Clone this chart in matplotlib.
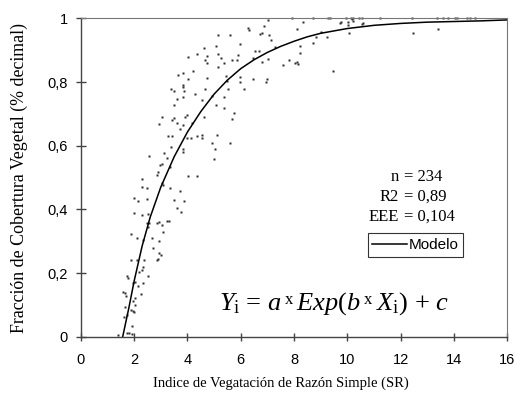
import matplotlib
matplotlib.use('Agg')
import matplotlib.pyplot as plt

SERIF = 'Liberation Serif'
SANS = 'Liberation Sans'
plt.rcParams['mathtext.fontset'] = 'custom'
plt.rcParams['mathtext.rm'] = SERIF
plt.rcParams['mathtext.it'] = SERIF + ':italic'

# observaciones (SR, fraccion de cobertura)
obs_x = [7.03, 7.93, 6.88, 6.28, 6.31, 6.80, 6.73, 7.06, 7.14, 5.15, 5.60, 5.98, 5.07, 4.62, 7.29,
         6.54, 6.69, 4.02, 4.36, 4.74, 4.66, 4.74, 5.15, 5.26, 5.38, 5.68, 5.86, 5.90, 6.46, 6.80,
         7.03, 5.15, 7.59, 7.81, 8.11, 8.13, 8.04, 4.21, 3.65, 3.84, 4.02, 4.74, 5.45, 5.49, 5.98,
         5.98, 6.46, 6.99, 6.95, 3.84, 3.84, 3.87, 3.39, 3.50, 4.29, 4.66, 5.53, 6.13, 3.61, 3.50,
         3.84, 4.55, 4.92, 5.07, 5.38, 5.38, 3.99, 3.91, 3.05, 2.94, 3.42, 3.50, 3.61, 3.84, 3.72,
         4.17, 4.62, 5.75, 5.68, 3.27, 3.42, 3.99, 4.14, 4.36, 4.55, 4.55, 5.11, 4.92, 5.60, 3.39,
         3.84, 3.84, 5.04, 5.00, 2.56, 3.12, 3.24, 2.97, 3.05, 3.35, 2.90, 2.86, 4.02, 4.36, 2.30,
         3.05, 3.09, 2.30, 2.49, 3.35, 3.72, 3.50, 3.88, 2.00, 2.15, 2.49, 3.61, 3.76, 2.00, 2.30,
         2.52, 2.49, 2.56, 2.86, 2.94, 3.05, 3.24, 3.31, 2.52, 3.09, 1.89, 2.11, 2.34, 2.67, 2.94,
         2.71, 2.94, 3.01, 2.90, 2.86, 1.89, 2.11, 2.37, 2.34, 2.30, 2.19, 2.52, 1.74, 1.77, 2.04,
         1.96, 2.15, 2.34, 2.26, 1.59, 1.66, 1.70, 2.04, 1.96, 1.66, 1.89, 1.96, 2.04, 2.00, 1.62,
         1.74, 1.92, 1.74, 1.81, 1.92, 1.40,
         8.71, 9.28, 9.35, 9.95, 10.14, 10.21, 10.44, 10.55, 11.23, 12.43, 13.36, 13.59, 13.78,
         14.04, 14.11, 14.49, 14.60, 14.79,
         8.34, 8.11, 9.76, 9.73, 10.03, 10.03, 10.18, 10.21, 10.59, 10.55, 9.01, 8.83, 9.24,
         10.06, 8.71, 8.22, 8.22, 9.47, 12.46, 13.40]
obs_y = [0.995, 1.0, 0.976, 0.970, 0.964, 0.954, 0.951, 0.948, 0.932, 0.948, 0.948, 0.919, 0.913, 0.907, 0.910,
         0.897, 0.897, 0.879, 0.888, 0.882, 0.869, 0.860, 0.888, 0.875, 0.860, 0.869, 0.869, 0.885, 0.875, 0.863,
         0.872, 0.847, 0.853, 0.869, 0.863, 0.858, 0.860, 0.834, 0.822, 0.828, 0.809, 0.812, 0.819, 0.803, 0.816,
         0.800, 0.809, 0.809, 0.800, 0.791, 0.784, 0.772, 0.778, 0.772, 0.762, 0.778, 0.778, 0.778, 0.746, 0.728,
         0.752, 0.743, 0.756, 0.728, 0.752, 0.718, 0.696, 0.690, 0.690, 0.668, 0.681, 0.687, 0.671, 0.665, 0.652,
         0.671, 0.690, 0.703, 0.684, 0.630, 0.630, 0.624, 0.624, 0.630, 0.634, 0.624, 0.634, 0.608, 0.608, 0.596,
         0.590, 0.580, 0.590, 0.558, 0.568, 0.577, 0.561, 0.539, 0.542, 0.533, 0.517, 0.508, 0.505, 0.505, 0.495,
         0.482, 0.476, 0.470, 0.467, 0.467, 0.458, 0.429, 0.426, 0.436, 0.426, 0.433, 0.404, 0.392, 0.389, 0.382,
         0.385, 0.357, 0.357, 0.357, 0.360, 0.351, 0.363, 0.363, 0.345, 0.329, 0.323, 0.310, 0.304, 0.310, 0.301,
         0.279, 0.263, 0.257, 0.244, 0.241, 0.241, 0.241, 0.241, 0.219, 0.209, 0.203, 0.191, 0.191, 0.184, 0.172,
         0.169, 0.159, 0.169, 0.134, 0.140, 0.137, 0.128, 0.122, 0.112, 0.093, 0.084, 0.081, 0.100, 0.078, 0.062,
         0.068, 0.034, 0.012, 0.012, 0.008, 0.005,
         1.0, 1.0, 1.0, 1.0, 1.0, 1.0, 1.0, 1.0, 1.0, 1.0, 1.0, 1.0, 1.0,
         1.0, 1.0, 1.0, 1.0, 1.0,
         0.988, 0.966, 0.988, 0.985, 0.988, 0.979, 0.998, 0.992, 0.985, 0.982, 0.957, 0.941, 0.941,
         0.954, 0.922, 0.913, 0.891, 0.835, 0.954, 0.966]

# curva del modelo
model_x = [1.57, 1.8, 2.0, 2.3, 2.6, 3.0, 3.5, 4.0, 4.5, 5.0, 5.5, 6.0, 6.5, 7.0, 7.5, 8.0,
           8.5, 9.0, 10.0, 11.0, 12.0, 13.0, 14.0, 15.0, 16.0]
model_y = [0.0, 0.09, 0.175, 0.285, 0.375, 0.47, 0.565, 0.643, 0.707, 0.762, 0.806, 0.842, 0.87, 0.893,
           0.912, 0.928, 0.942, 0.953, 0.968, 0.978, 0.984, 0.988, 0.99, 0.992, 0.995]

xticks = [0, 2, 4, 6, 8, 10, 12, 14, 16]
yticks = [0, 0.2, 0.4, 0.6, 0.8, 1]
ytick_labels = ['0', '0,2', '0,4', '0,6', '0,8', '1']

stats_names = ['n', 'R2', 'EEE']
stats_values = ['= 234', '= 0,89', '= 0,104']

fig = plt.figure(figsize=(5.15, 3.95), dpi=100)
ax = fig.add_axes([0.157, 0.1476, 0.828, 0.806])

ax.plot(obs_x, obs_y, 's', ms=2.1, color='#2e2e2e', mec='none', clip_on=False)
ax.plot(model_x, model_y, '-', color='black', lw=1.1, label='Modelo')

ax.set_xlim(0, 16)
ax.set_ylim(0, 1)
ax.set_xticks(xticks)
ax.set_xticklabels([str(t) for t in xticks], fontfamily=SANS, fontsize=10.5)
ax.set_yticks(yticks)
ax.set_yticklabels(ytick_labels, fontfamily=SANS, fontsize=10.5)
ax.tick_params(axis='x', direction='inout', length=6, width=1, color='#444444', pad=9)
ax.tick_params(axis='y', direction='inout', length=7, width=1, color='#444444', pad=6)

for s in ['left', 'bottom']:
    ax.spines[s].set_color('#444444')
    ax.spines[s].set_linewidth(1)
for s in ['top', 'right']:
    ax.spines[s].set_color('#777777')
    ax.spines[s].set_linewidth(0.8)

fig.text(281 / 515, 1 - 383 / 395, 'Indice de Vegatación de Razón Simple (SR)',
         fontfamily=SERIF, fontsize=10.5, ha='center', va='center')
fig.text(19.5 / 515, 1 - 178 / 395, 'Fracción de Cobertura Vegetal (% decimal)',
         fontfamily=SERIF, fontsize=12.9, rotation=90, ha='center', va='center')

for i, (nm, val) in enumerate(zip(stats_names, stats_values)):
    yy = 0.503 - i * 0.063
    ax.text(11.94, yy, nm, fontfamily=SERIF, fontsize=12, ha='right', va='center')
    ax.text(12.12, yy, val, fontfamily=SERIF, fontsize=12, ha='left', va='center')

leg = ax.legend(loc='center', bbox_to_anchor=(0.785, 0.288), frameon=True, fancybox=False,
                prop={'family': SANS, 'size': 11}, handlelength=2.3, handletextpad=0.1,
                borderpad=0.3, borderaxespad=0)
leg.get_frame().set_edgecolor('black')
leg.get_frame().set_linewidth(0.8)

# ecuacion del modelo: tramos encadenados, con la "x" pequeña elevada
eq_base = 0.084
eq_parts = [r'$Y_{\mathrm{i}}$ = $a$', r'$Exp(b$', r'$X_{\mathrm{i}}$) + $c$']
prev = ax.text(5.19, eq_base, eq_parts[0], fontfamily=SERIF, fontsize=19,
               ha='left', va='baseline')
for part in eq_parts[1:]:
    mark = ax.annotate('x', xy=(1, eq_base), xycoords=(prev, 'data'),
                       xytext=(2, 4.5), textcoords='offset points',
                       fontfamily=SERIF, fontsize=12, ha='left', va='baseline')
    prev = ax.annotate(part, xy=(1, eq_base), xycoords=(mark, 'data'),
                       xytext=(2.5, 0), textcoords='offset points',
                       fontfamily=SERIF, fontsize=19, ha='left', va='baseline')

fig.savefig('out.png', dpi=100)
